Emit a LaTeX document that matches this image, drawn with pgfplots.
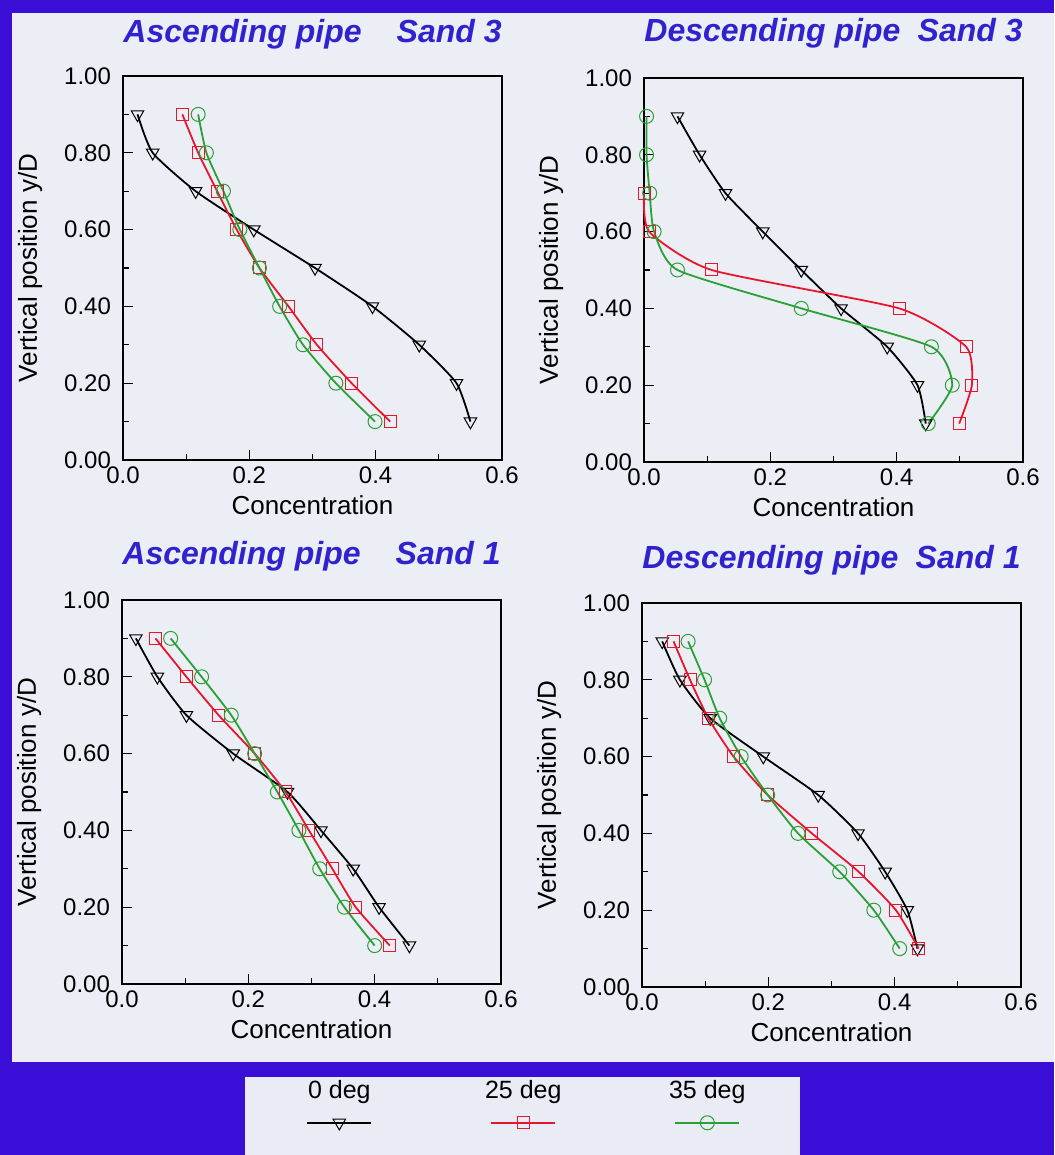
\documentclass[border=0pt]{standalone}
\usepackage{fontspec}
\setmainfont{Liberation Sans}
\usepackage{pgfplots}
\pgfplotsset{compat=1.18}

\definecolor{frameblue}{RGB}{58,14,214}
\definecolor{panelgrey}{RGB}{236,238,246}
\definecolor{legendgrey}{RGB}{233,235,245}
\definecolor{titleblue}{RGB}{48,34,206}
\definecolor{cred}{RGB}{232,22,44}
\definecolor{cgreen}{RGB}{42,160,52}

\tikzset{ptitle/.style={font=\fontsize{16}{18}\selectfont\bfseries\itshape, text=titleblue, inner sep=0pt}}

% 1 px of the reference = 0.5pt
\pgfplotsset{
  panel/.style={
    scale only axis, width=189.5pt, height=192pt,
    xmin=0, xmax=0.6, ymin=0, ymax=1, clip=false,
    xtick={0,0.2,0.4,0.6}, ytick={0,0.2,0.4,0.6,0.8,1},
    minor xtick={0.1,0.3,0.5}, minor ytick={0.1,0.3,0.5,0.7,0.9},
    tick pos=left, tick align=inside,
    major tick length=5pt, minor tick length=3pt,
    tick style={black, line width=0.6pt},
    axis line style={line width=0.9pt},
    scaled ticks=false,
    /pgf/number format/assume math mode=true,
    x tick label style={/pgf/number format/fixed, /pgf/number format/fixed zerofill, /pgf/number format/precision=1},
    y tick label style={/pgf/number format/fixed, /pgf/number format/fixed zerofill, /pgf/number format/precision=2, xshift=-2.5pt},
    tick label style={font=\fontsize{12}{14}\selectfont},
    label style={font=\fontsize{13}{15}\selectfont},
    xlabel={Concentration}, ylabel={Vertical position y/D},
    xlabel style={at={(axis description cs:0.5,-0.117)}, anchor=center},
    ylabel style={at={(axis description cs:-0.245,0.5)}, anchor=center},
  },
  s0/.style={black, line width=0.9pt, smooth, tension=0.35, mark=triangle, mark size=3.6pt,
    mark options={rotate=180, line width=0.5pt, solid, fill=none}},
  s25/.style={cred, line width=0.9pt, smooth, tension=0.35, mark=square, mark size=3pt,
    mark options={line width=0.5pt, solid, fill=none}},
  s35/.style={cgreen, line width=0.9pt, smooth, tension=0.35, mark=o, mark size=3.5pt,
    mark options={line width=0.5pt, solid, fill=none}},
}

\begin{document}
\begin{tikzpicture}
\fill[frameblue] (0,0) rectangle (527pt,577.5pt);
\fill[panelgrey] (6pt,46.5pt) rectangle (527pt,571pt);
\fill[legendgrey] (122.5pt,0pt) rectangle (400pt,39pt);

% Ascending pipe, Sand 3
\begin{axis}[panel, at={(61.5pt,347.5pt)}, anchor=south west]
\addplot[s0] coordinates {(0.023,0.9) (0.047,0.8) (0.115,0.7) (0.207,0.6) (0.304,0.5) (0.395,0.4) (0.469,0.3) (0.528,0.2) (0.550,0.1)};
\addplot[s25] coordinates {(0.094,0.9) (0.119,0.8) (0.149,0.7) (0.180,0.6) (0.216,0.5) (0.262,0.4) (0.307,0.3) (0.362,0.2) (0.423,0.1)};
\addplot[s35] coordinates {(0.119,0.9) (0.132,0.8) (0.159,0.7) (0.185,0.6) (0.216,0.5) (0.248,0.4) (0.285,0.3) (0.337,0.2) (0.399,0.1)};
\node[ptitle, anchor=base west, yshift=16.5pt] at (rel axis cs:0,1) {Ascending pipe};
\node[ptitle, anchor=base east, yshift=16.5pt] at (rel axis cs:1,1) {Sand 3};
\end{axis}

% Descending pipe, Sand 3
\begin{axis}[panel, at={(322pt,346.5pt)}, anchor=south west]
\addplot[s0] coordinates {(0.053,0.9) (0.088,0.8) (0.129,0.7) (0.188,0.6) (0.249,0.5) (0.312,0.4) (0.385,0.3) (0.433,0.2) (0.446,0.1)};
\addplot[s25] coordinates {(0.000,0.7) (0.008,0.6) (0.107,0.5) (0.404,0.4) (0.510,0.3) (0.519,0.2) (0.499,0.1)};
\addplot[s35] coordinates {(0.004,0.9) (0.004,0.8) (0.009,0.7) (0.016,0.6) (0.053,0.5) (0.249,0.4) (0.455,0.3) (0.488,0.2) (0.450,0.1)};
\node[ptitle, anchor=base west, yshift=18pt] at (rel axis cs:0,1) {Descending pipe};
\node[ptitle, anchor=base east, yshift=18pt] at (rel axis cs:1,1) {Sand 3};
\end{axis}

% Ascending pipe, Sand 1
\begin{axis}[panel, at={(61pt,85.5pt)}, anchor=south west]
\addplot[s0] coordinates {(0.022,0.9) (0.056,0.8) (0.102,0.7) (0.176,0.6) (0.262,0.5) (0.315,0.4) (0.366,0.3) (0.407,0.2) (0.455,0.1)};
\addplot[s25] coordinates {(0.053,0.9) (0.102,0.8) (0.153,0.7) (0.210,0.6) (0.259,0.5) (0.296,0.4) (0.333,0.3) (0.370,0.2) (0.424,0.1)};
\addplot[s35] coordinates {(0.077,0.9) (0.126,0.8) (0.173,0.7) (0.210,0.6) (0.246,0.5) (0.280,0.4) (0.313,0.3) (0.352,0.2) (0.400,0.1)};
\node[ptitle, anchor=base west, yshift=17.5pt] at (rel axis cs:0,1) {Ascending pipe};
\node[ptitle, anchor=base east, yshift=17.5pt] at (rel axis cs:1,1) {Sand 1};
\end{axis}

% Descending pipe, Sand 1 (carries the legend)
\begin{axis}[panel, at={(321pt,84pt)}, anchor=south west,
  legend style={at={(axis description cs:-0.958,-0.243)}, anchor=north west,
    draw=none, fill=none, inner sep=0pt, legend columns=3,
    nodes={inner sep=0pt, font=\fontsize{12.5}{15}\selectfont},
    /tikz/every even column/.append style={column sep=32pt}},
  legend plot pos=right,
  legend image code/.code={\draw[mark repeat=2, mark phase=2, overlay, #1]
    plot coordinates {(-46pt,-15.75pt) (-30pt,-15.75pt) (-14pt,-15.75pt)};},
]
\addplot[s0] coordinates {(0.032,0.9) (0.060,0.8) (0.108,0.7) (0.192,0.6) (0.279,0.5) (0.342,0.4) (0.385,0.3) (0.420,0.2) (0.436,0.1)};
\addlegendentry{\makebox[60pt]{0 deg}}
\addplot[s25] coordinates {(0.050,0.9) (0.076,0.8) (0.105,0.7) (0.145,0.6) (0.199,0.5) (0.269,0.4) (0.343,0.3) (0.402,0.2) (0.438,0.1)};
\addlegendentry{\makebox[60pt]{25 deg}}
\addplot[s35] coordinates {(0.073,0.9) (0.099,0.8) (0.123,0.7) (0.157,0.6) (0.199,0.5) (0.247,0.4) (0.313,0.3) (0.367,0.2) (0.408,0.1)};
\addlegendentry{\makebox[60pt]{35 deg}}
\node[ptitle, anchor=base west, yshift=17pt] at (rel axis cs:0,1) {Descending pipe};
\node[ptitle, anchor=base east, yshift=17pt] at (rel axis cs:1,1) {Sand 1};
\end{axis}
\end{tikzpicture}
\end{document}
